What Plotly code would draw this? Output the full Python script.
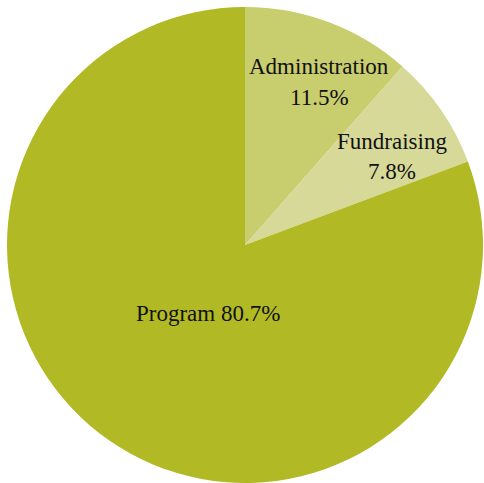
import plotly.graph_objects as go

categories = ["Administration", "Fundraising", "Program"]
values = [11.5, 7.8, 80.7]
colors = ["#c8cd6d", "#d6d998", "#b1ba25"]

W, H = 484, 483

fig = go.Figure(go.Pie(
    labels=categories,
    values=values,
    sort=False,
    direction="clockwise",
    rotation=0,
    marker=dict(colors=colors, line=dict(width=0)),
    textinfo="none",
    hoverinfo="label+percent",
    showlegend=False,
    domain=dict(x=[7 / W, 483 / W], y=[0, 476 / H]),
))

# label lines: (text, px_x, px_y)
label_lines = [
    (categories[0], 319, 66),
    (f"{values[0]}%", 319.5, 97.5),
    (categories[1], 391.5, 141),
    (f"{values[1]}%", 391.5, 171),
    (f"{categories[2]} {values[2]}%", 207.5, 313),
]
for text, px, py in label_lines:
    fig.add_annotation(
        text=text, x=px / W, y=1 - py / H, xref="paper", yref="paper",
        xanchor="center", yanchor="middle", showarrow=False,
        font=dict(family="'Liberation Serif', 'DejaVu Serif', serif", size=23, color="#111111"),
    )

fig.update_layout(
    width=W, height=H,
    margin=dict(l=0, r=0, t=0, b=0),
    paper_bgcolor="white",
    plot_bgcolor="white",
    font=dict(family="'Liberation Serif', serif"),
)

fig.write_html(
    "out.html",
    config={"displayModeBar": False},
    post_script="document.body.style.margin='0';document.body.style.padding='0';",
)
